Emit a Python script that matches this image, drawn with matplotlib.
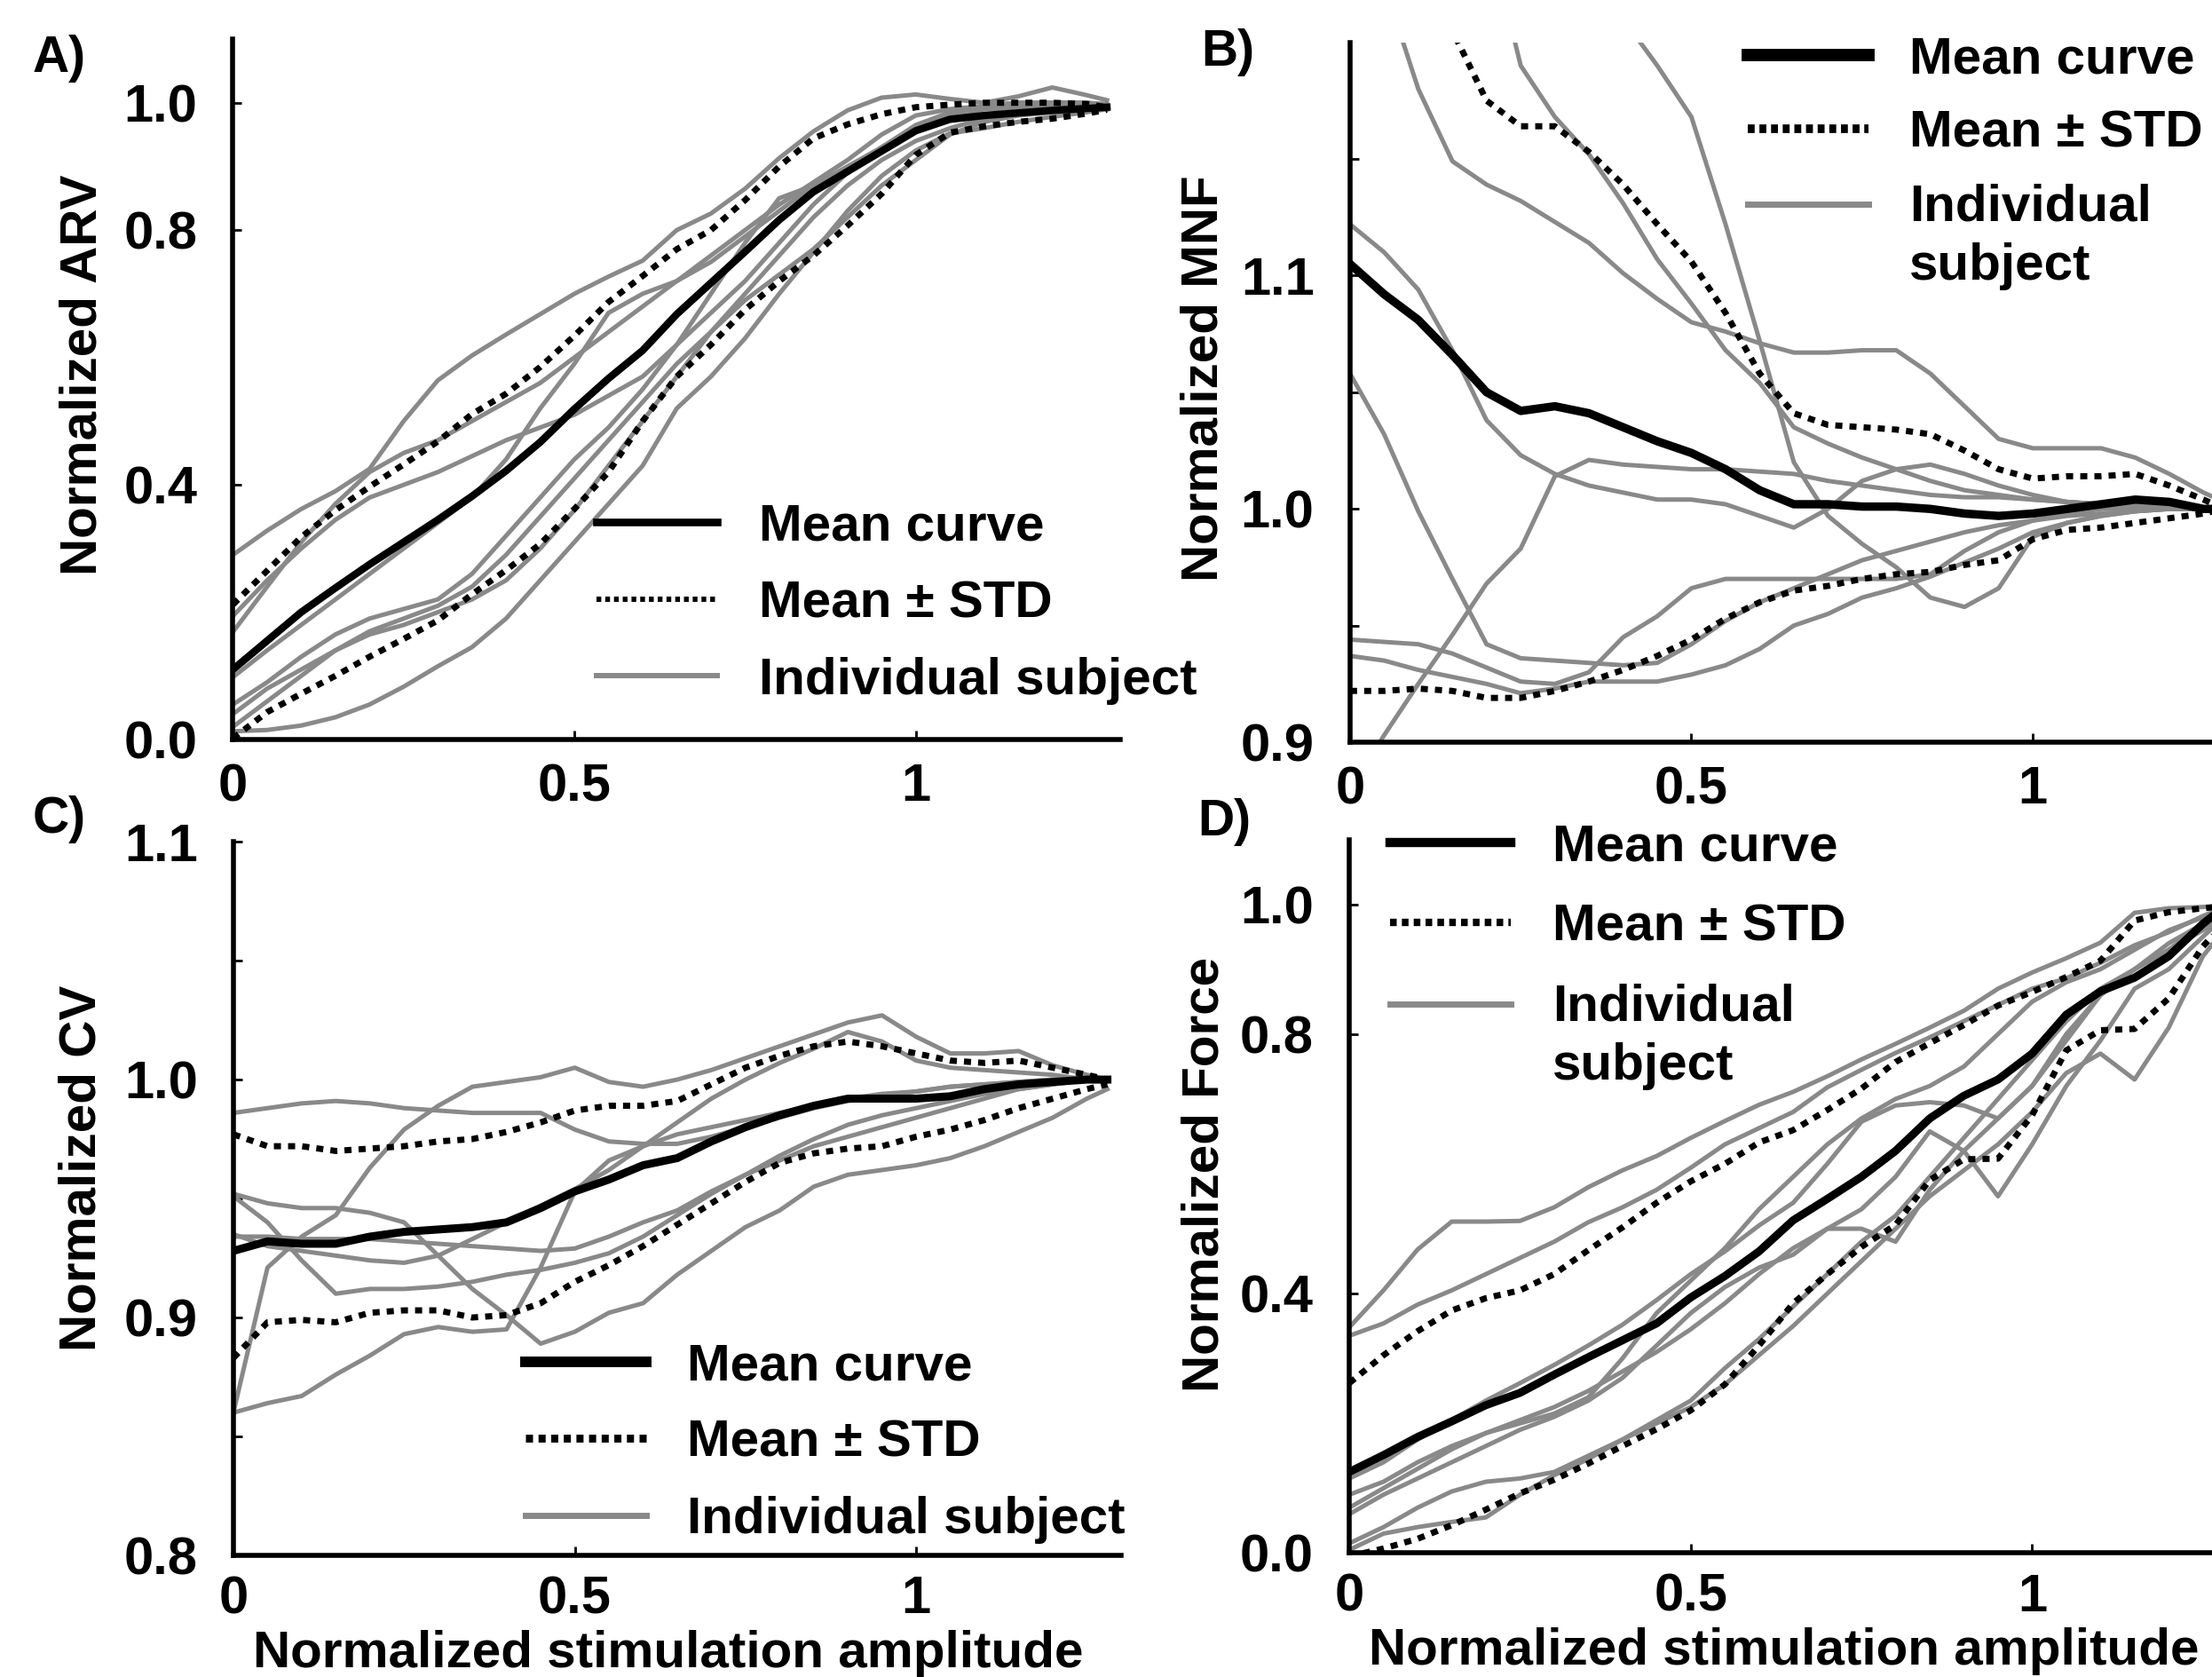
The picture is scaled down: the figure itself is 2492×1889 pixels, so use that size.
import matplotlib
matplotlib.use("Agg")
import matplotlib.pyplot as plt
from matplotlib.lines import Line2D

plt.rcParams["font.family"] = ["Liberation Sans", "DejaVu Sans"]
plt.rcParams["font.weight"] = "bold"

# common amplitude grid
x = [0.00, 0.05, 0.10, 0.15, 0.20, 0.25, 0.30, 0.35, 0.40, 0.45, 0.50, 0.55, 0.60, 0.65,
     0.70, 0.75, 0.80, 0.85, 0.90, 0.95, 1.00, 1.05, 1.10, 1.15, 1.20, 1.25, 1.28]

# A) ARV
arv_mean = [0.110, 0.155, 0.200, 0.238, 0.275, 0.310, 0.345, 0.382, 0.422, 0.467, 0.519, 0.567, 0.611, 0.668, 0.717, 0.766, 0.816, 0.860, 0.892, 0.924, 0.956, 0.974, 0.980, 0.984, 0.988, 0.991, 0.993]
arv_hi = [0.212, 0.265, 0.318, 0.360, 0.397, 0.432, 0.468, 0.511, 0.543, 0.585, 0.634, 0.687, 0.728, 0.770, 0.800, 0.847, 0.900, 0.944, 0.966, 0.982, 0.993, 0.997, 1.000, 1.000, 1.000, 0.998, 0.993]
arv_lo = [0.002, 0.043, 0.072, 0.100, 0.130, 0.158, 0.187, 0.228, 0.266, 0.307, 0.362, 0.420, 0.500, 0.570, 0.620, 0.675, 0.720, 0.760, 0.807, 0.857, 0.918, 0.953, 0.963, 0.970, 0.975, 0.983, 0.989]
arv_subj = [
    [0.290, 0.328, 0.362, 0.390, 0.425, 0.500, 0.564, 0.603, 0.636, 0.668, 0.700, 0.727, 0.752, 0.800, 0.826, 0.865, 0.913, 0.955, 0.988, 1.008, 1.013, 1.006, 1.000, 1.010, 1.024, 1.012, 1.004],
    [0.194, 0.250, 0.300, 0.345, 0.380, 0.400, 0.420, 0.445, 0.470, 0.490, 0.510, 0.540, 0.570, 0.620, 0.670, 0.720, 0.780, 0.840, 0.890, 0.930, 0.965, 0.985, 0.995, 1.000, 1.000, 1.000, 0.998],
    [0.169, 0.240, 0.310, 0.370, 0.420, 0.450, 0.470, 0.500, 0.530, 0.560, 0.600, 0.640, 0.680, 0.720, 0.760, 0.800, 0.840, 0.875, 0.910, 0.950, 0.980, 0.990, 0.995, 1.000, 1.000, 0.998, 0.995],
    [0.098, 0.140, 0.180, 0.220, 0.260, 0.300, 0.340, 0.380, 0.440, 0.520, 0.590, 0.670, 0.700, 0.720, 0.750, 0.790, 0.830, 0.870, 0.900, 0.930, 0.960, 0.980, 0.990, 0.995, 1.000, 1.000, 0.995],
    [0.055, 0.090, 0.130, 0.165, 0.190, 0.205, 0.220, 0.260, 0.320, 0.380, 0.440, 0.490, 0.550, 0.620, 0.700, 0.780, 0.850, 0.870, 0.890, 0.930, 0.960, 0.980, 0.990, 0.990, 0.995, 1.000, 0.995],
    [0.040, 0.080, 0.110, 0.140, 0.165, 0.180, 0.200, 0.220, 0.250, 0.300, 0.360, 0.430, 0.500, 0.570, 0.640, 0.700, 0.760, 0.820, 0.870, 0.910, 0.940, 0.960, 0.975, 0.985, 0.990, 0.995, 0.990],
    [0.013, 0.015, 0.022, 0.035, 0.055, 0.083, 0.115, 0.145, 0.190, 0.250, 0.310, 0.370, 0.430, 0.520, 0.570, 0.630, 0.700, 0.765, 0.830, 0.885, 0.925, 0.952, 0.960, 0.970, 0.978, 0.985, 0.990],
    [0.020, 0.060, 0.100, 0.140, 0.170, 0.190, 0.210, 0.240, 0.290, 0.350, 0.410, 0.470, 0.530, 0.590, 0.640, 0.690, 0.730, 0.770, 0.820, 0.870, 0.910, 0.950, 0.970, 0.980, 0.985, 0.990, 0.990],
]

# B) MNF
mnf_mean = [1.105, 1.092, 1.081, 1.066, 1.050, 1.042, 1.044, 1.041, 1.035, 1.029, 1.024, 1.017, 1.008, 1.002, 1.002, 1.001, 1.001, 1.000, 0.998, 0.997, 0.998, 1.000, 1.002, 1.004, 1.003, 1.000, 1.000]
mnf_hi = [1.280, 1.260, 1.235, 1.205, 1.175, 1.164, 1.164, 1.153, 1.139, 1.122, 1.106, 1.084, 1.058, 1.041, 1.036, 1.035, 1.034, 1.032, 1.025, 1.017, 1.013, 1.014, 1.014, 1.015, 1.010, 1.004, 1.000]
mnf_lo = [0.922, 0.922, 0.923, 0.922, 0.919, 0.919, 0.922, 0.926, 0.931, 0.937, 0.944, 0.953, 0.960, 0.965, 0.967, 0.970, 0.972, 0.973, 0.976, 0.978, 0.987, 0.991, 0.992, 0.994, 0.996, 0.998, 1.000]
mnf_subj = [
    [1.270, 1.225, 1.180, 1.149, 1.139, 1.132, 1.123, 1.114, 1.101, 1.090, 1.080, 1.076, 1.071, 1.067, 1.067, 1.068, 1.068, 1.058, 1.044, 1.030, 1.026, 1.026, 1.026, 1.022, 1.015, 1.007, 1.003],
    [1.360, 1.340, 1.320, 1.290, 1.250, 1.190, 1.168, 1.152, 1.131, 1.107, 1.088, 1.068, 1.054, 1.035, 1.028, 1.022, 1.017, 1.012, 1.008, 1.006, 1.004, 1.003, 1.002, 1.002, 1.001, 1.000, 1.000],
    [1.400, 1.380, 1.360, 1.340, 1.320, 1.300, 1.270, 1.240, 1.210, 1.190, 1.168, 1.122, 1.072, 1.020, 0.997, 0.985, 0.975, 0.962, 0.958, 0.966, 0.988, 0.994, 0.997, 0.999, 1.000, 1.000, 1.000],
    [1.122, 1.110, 1.094, 1.068, 1.038, 1.023, 1.015, 1.010, 1.007, 1.004, 1.004, 1.002, 0.997, 0.992, 1.000, 1.012, 1.017, 1.019, 1.015, 1.010, 1.006, 1.003, 1.002, 1.001, 1.000, 1.000, 1.000],
    [1.058, 1.032, 0.999, 0.970, 0.942, 0.936, 0.935, 0.934, 0.933, 0.934, 0.942, 0.952, 0.960, 0.966, 0.972, 0.978, 0.982, 0.986, 0.990, 0.993, 0.995, 0.997, 0.998, 0.999, 1.000, 1.000, 1.000],
    [0.944, 0.943, 0.942, 0.938, 0.932, 0.926, 0.925, 0.930, 0.945, 0.954, 0.966, 0.970, 0.970, 0.970, 0.970, 0.970, 0.970, 0.972, 0.982, 0.990, 0.995, 0.998, 1.000, 1.000, 1.000, 1.000, 1.000],
    [0.937, 0.935, 0.931, 0.928, 0.925, 0.921, 0.923, 0.926, 0.926, 0.926, 0.929, 0.933, 0.940, 0.950, 0.955, 0.962, 0.966, 0.971, 0.977, 0.983, 0.990, 0.994, 0.997, 0.999, 1.000, 1.000, 1.000],
    [0.880, 0.903, 0.925, 0.946, 0.968, 0.983, 1.014, 1.021, 1.019, 1.018, 1.017, 1.017, 1.016, 1.015, 1.012, 1.010, 1.008, 1.006, 1.005, 1.005, 1.004, 1.003, 1.002, 1.001, 1.000, 1.000, 1.000],
]

# C) CV
cv_mean = [0.928, 0.932, 0.931, 0.931, 0.934, 0.936, 0.937, 0.938, 0.940, 0.946, 0.953, 0.958, 0.964, 0.967, 0.974, 0.980, 0.985, 0.989, 0.992, 0.992, 0.992, 0.993, 0.996, 0.998, 0.999, 1.000, 1.000]
cv_hi = [0.977, 0.972, 0.972, 0.970, 0.971, 0.972, 0.974, 0.975, 0.978, 0.982, 0.987, 0.989, 0.989, 0.991, 0.998, 1.005, 1.010, 1.014, 1.016, 1.014, 1.011, 1.008, 1.007, 1.008, 1.005, 1.002, 1.000]
cv_lo = [0.883, 0.898, 0.899, 0.898, 0.902, 0.903, 0.903, 0.900, 0.901, 0.906, 0.915, 0.922, 0.930, 0.939, 0.948, 0.957, 0.965, 0.969, 0.971, 0.972, 0.976, 0.979, 0.983, 0.988, 0.992, 0.996, 0.998]
cv_subj = [
    [0.986, 0.988, 0.990, 0.991, 0.990, 0.988, 0.987, 0.986, 0.986, 0.986, 0.979, 0.974, 0.973, 0.973, 0.976, 0.980, 0.984, 0.988, 0.991, 0.993, 0.995, 0.997, 0.998, 0.999, 1.000, 1.000, 1.000],
    [0.952, 0.948, 0.946, 0.946, 0.944, 0.940, 0.926, 0.912, 0.901, 0.889, 0.894, 0.902, 0.906, 0.918, 0.928, 0.938, 0.945, 0.955, 0.960, 0.962, 0.964, 0.967, 0.972, 0.978, 0.984, 0.992, 0.996],
    [0.860, 0.864, 0.867, 0.876, 0.884, 0.893, 0.896, 0.894, 0.895, 0.921, 0.953, 0.966, 0.972, 0.977, 0.980, 0.983, 0.986, 0.989, 0.992, 0.994, 0.995, 0.997, 0.998, 0.999, 1.000, 1.000, 1.000],
    [0.860, 0.921, 0.934, 0.943, 0.963, 0.979, 0.989, 0.997, 0.999, 1.001, 1.005, 0.999, 0.997, 1.000, 1.004, 1.009, 1.014, 1.019, 1.024, 1.027, 1.018, 1.011, 1.011, 1.012, 1.006, 1.002, 1.000],
    [0.951, 0.940, 0.924, 0.910, 0.912, 0.912, 0.913, 0.915, 0.918, 0.920, 0.923, 0.927, 0.934, 0.943, 0.952, 0.960, 0.968, 0.975, 0.981, 0.985, 0.988, 0.991, 0.994, 0.996, 0.998, 1.000, 1.000],
    [0.934, 0.934, 0.933, 0.933, 0.933, 0.932, 0.931, 0.930, 0.929, 0.928, 0.929, 0.934, 0.940, 0.945, 0.953, 0.960, 0.966, 0.972, 0.976, 0.980, 0.984, 0.988, 0.992, 0.996, 0.998, 1.000, 1.000],
    [0.935, 0.930, 0.928, 0.926, 0.924, 0.923, 0.926, 0.933, 0.940, 0.947, 0.954, 0.962, 0.972, 0.982, 0.992, 1.000, 1.007, 1.013, 1.020, 1.016, 1.008, 1.005, 1.004, 1.003, 1.002, 1.000, 1.000],
]

# D) Force
force_mean = [0.125, 0.151, 0.179, 0.203, 0.228, 0.247, 0.275, 0.302, 0.328, 0.354, 0.394, 0.427, 0.465, 0.513, 0.546, 0.580, 0.620, 0.670, 0.705, 0.730, 0.770, 0.830, 0.866, 0.887, 0.920, 0.970, 0.995]
force_hi = [0.262, 0.305, 0.342, 0.374, 0.393, 0.405, 0.430, 0.467, 0.502, 0.540, 0.573, 0.600, 0.633, 0.652, 0.683, 0.716, 0.757, 0.786, 0.814, 0.844, 0.865, 0.888, 0.913, 0.975, 0.988, 0.994, 0.997]
force_lo = [-0.005, 0.007, 0.022, 0.043, 0.067, 0.092, 0.113, 0.138, 0.165, 0.191, 0.220, 0.260, 0.320, 0.385, 0.430, 0.472, 0.506, 0.575, 0.607, 0.608, 0.675, 0.775, 0.806, 0.808, 0.855, 0.935, 0.970]
force_subj = [
    [0.348, 0.405, 0.468, 0.511, 0.511, 0.512, 0.533, 0.564, 0.590, 0.612, 0.640, 0.666, 0.691, 0.711, 0.735, 0.761, 0.785, 0.810, 0.836, 0.870, 0.895, 0.917, 0.941, 0.987, 0.994, 0.996, 0.998],
    [0.335, 0.354, 0.383, 0.405, 0.430, 0.455, 0.480, 0.510, 0.533, 0.560, 0.594, 0.630, 0.655, 0.680, 0.718, 0.745, 0.771, 0.795, 0.820, 0.845, 0.870, 0.886, 0.910, 0.937, 0.957, 0.982, 0.995],
    [0.115, 0.140, 0.175, 0.205, 0.235, 0.262, 0.290, 0.320, 0.352, 0.390, 0.430, 0.465, 0.505, 0.540, 0.600, 0.665, 0.690, 0.695, 0.690, 0.670, 0.720, 0.790, 0.860, 0.900, 0.930, 0.970, 0.990],
    [0.090, 0.110, 0.140, 0.165, 0.185, 0.200, 0.215, 0.240, 0.300, 0.370, 0.420, 0.470, 0.530, 0.580, 0.630, 0.670, 0.700, 0.720, 0.750, 0.800, 0.850, 0.880, 0.900, 0.930, 0.960, 0.980, 0.990],
    [0.070, 0.100, 0.130, 0.160, 0.185, 0.205, 0.225, 0.250, 0.280, 0.310, 0.345, 0.385, 0.430, 0.470, 0.500, 0.530, 0.580, 0.650, 0.620, 0.550, 0.630, 0.720, 0.790, 0.870, 0.900, 0.950, 0.980],
    [0.060, 0.090, 0.115, 0.140, 0.165, 0.190, 0.210, 0.235, 0.270, 0.320, 0.370, 0.410, 0.440, 0.460, 0.500, 0.500, 0.480, 0.560, 0.620, 0.670, 0.720, 0.800, 0.860, 0.900, 0.940, 0.970, 0.990],
    [0.015, 0.040, 0.070, 0.095, 0.110, 0.115, 0.125, 0.150, 0.175, 0.200, 0.225, 0.260, 0.305, 0.350, 0.400, 0.450, 0.500, 0.550, 0.590, 0.630, 0.680, 0.740, 0.770, 0.730, 0.810, 0.920, 0.960],
    [0.005, 0.030, 0.040, 0.048, 0.055, 0.090, 0.120, 0.145, 0.175, 0.205, 0.235, 0.285, 0.330, 0.380, 0.430, 0.480, 0.520, 0.580, 0.640, 0.700, 0.760, 0.820, 0.870, 0.900, 0.930, 0.960, 0.980],
]

x_ticks = [0, 0.5, 1]
x_ticklabels = ["0", "0.5", "1"]

GRAY = "#898989"
DOT = (0, (1.15, 1.15))

fig = plt.figure(figsize=(24.92, 18.89), dpi=100)


def panel(rect, mean, hi, lo, subjects, ylim, yticks, yticklabels, ylabel, ylabel_xy,
          mean_lw, leg_xy, leg_lw, leg_dash, leg_space, subj_label, xlabel=False):
    ax = fig.add_axes(rect)
    for s in subjects:
        ax.plot(x, s, color=GRAY, lw=3.6)
    ax.plot(x, hi, color="black", lw=5, ls=DOT)
    ax.plot(x, lo, color="black", lw=5, ls=DOT)
    ax.plot(x, mean, color="black", lw=mean_lw)

    ax.set_xlim(0, 1.3)
    ax.set_ylim(*ylim)
    ax.set_xticks(x_ticks, x_ticklabels)
    ax.set_yticks(yticks, yticklabels)
    ax.tick_params(direction="in", length=7, width=2, labelsize=43)
    ax.tick_params(axis="y", pad=29)
    ax.tick_params(axis="x", pad=16 if xlabel else 19)
    ax.spines["top"].set_visible(False)
    ax.spines["right"].set_visible(False)
    ax.spines["left"].set_linewidth(4)
    ax.spines["bottom"].set_linewidth(4)

    ax.set_ylabel(ylabel, fontsize=42, fontweight="bold")
    ax.yaxis.set_label_coords(*ylabel_xy)
    if xlabel:
        ax.set_xlabel("Normalized stimulation amplitude", fontsize=42, fontweight="bold")
        ax.xaxis.set_label_coords(0.49, -0.104)

    handles = [
        Line2D([], [], color="black", lw=leg_lw[0]),
        Line2D([], [], color="black", lw=leg_lw[1], ls=(0, leg_dash)),
        Line2D([], [], color=GRAY, lw=leg_lw[2]),
    ]
    leg = ax.legend(handles, ["Mean curve", "Mean \u00b1 STD", subj_label],
                    loc="upper left", bbox_to_anchor=leg_xy, frameon=False,
                    prop={"size": 42, "weight": "bold"}, handlelength=2.33,
                    handletextpad=0.8, labelspacing=leg_space, borderpad=0,
                    borderaxespad=0)
    if "\n" in subj_label:
        for t in leg.get_texts():
            t.set_linespacing(1.3)
        h = leg.legend_handles[2]
        h.set_ydata(h.get_ydata() + 27)
    return ax


panel([0.1053, 0.559, 0.4013, 0.4177], arv_mean, arv_hi, arv_lo, arv_subj,
      (0, 1.1), [0, 0.4, 0.8, 1.0], ["0.0", "0.4", "0.8", "1.0"],
      "Normalized ARV", (-0.142, 0.52), 6.0,
      (0.41, 0.338), (6.2, 4.3, 4.3), (0.9, 0.75), 0.56, "Individual subject")

panel([0.6103, 0.5574, 0.4013, 0.4174], mnf_mean, mnf_hi, mnf_lo, mnf_subj,
      (0.9, 1.2), [0.9, 0.95, 1.0, 1.05, 1.1, 1.15], ["0.9", "", "1.0", "", "1.1", ""],
      "Normalized MNF", (-0.137, 0.52), 6.8,
      (0.448, 1.009), (10, 7, 5), (0.8, 0.55), 0.5, "Individual\nsubject")

panel([0.1055, 0.0725, 0.4013, 0.4256], cv_mean, cv_hi, cv_lo, cv_subj,
      (0.8, 1.1), [0.8, 0.85, 0.9, 0.95, 1.0, 1.05, 1.1],
      ["0.8", "", "0.9", "", "1.0", "", "1.1"],
      "Normalized CV", (-0.143, 0.543), 6.5,
      (0.3287, 0.2985), (8.6, 6.4, 5), (0.9, 0.7), 0.56, "Individual subject",
      xlabel=True)

panel([0.6100, 0.0739, 0.4013, 0.4255], force_mean, force_hi, force_lo, force_subj,
      (0, 1.1), [0, 0.4, 0.8, 1.0], ["0.0", "0.4", "0.8", "1.0"],
      "Normalized Force", (-0.136, 0.53), 6.5,
      (0.046, 1.0225), (7.5, 6, 5), (0.9, 0.7), 0.62, "Individual\nsubject",
      xlabel=True)

for lab, fx, fy in [("A)", 0.0148, 0.9648), ("B)", 0.543, 0.9688),
                    ("C)", 0.0148, 0.5114), ("D)", 0.5413, 0.5098)]:
    fig.text(fx, fy, lab, fontsize=41, fontweight="bold", ha="left", va="center")

fig.savefig("out.png", dpi=100)
